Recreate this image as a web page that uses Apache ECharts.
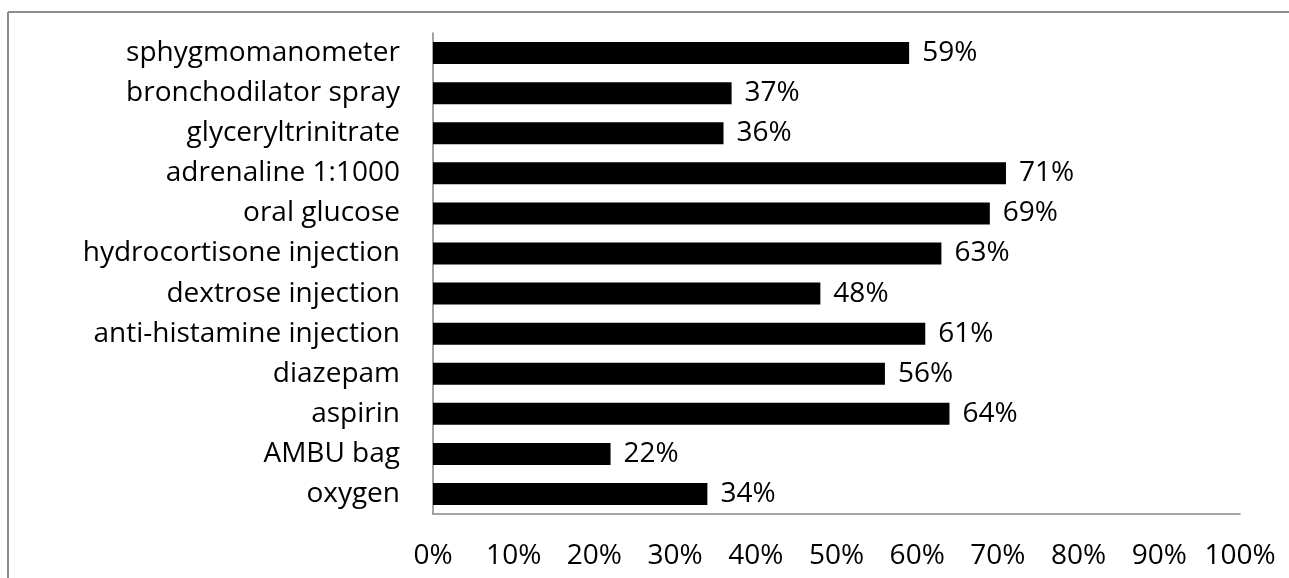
<!DOCTYPE html>
<html>
<head>
<meta charset="utf-8">
<script src="https://cdn.jsdelivr.net/npm/echarts@6/dist/echarts.min.js"></script>
<style>
  html, body { margin: 0; padding: 0; background: #fff; }
  #chart { width: 1289px; height: 578px; }
</style>
</head>
<body>
<div id="chart"></div>
<script>
// categories listed bottom to top (echarts puts the first one at the bottom)
var categories = [
  'oxygen', 'AMBU bag', 'aspirin', 'diazepam', 'anti-histamine injection',
  'dextrose injection', 'hydrocortisone injection', 'oral glucose',
  'adrenaline 1:1000', 'glyceryltrinitrate', 'bronchodilator spray', 'sphygmomanometer'
]
var percentValues = [34, 22, 64, 56, 61, 48, 63, 69, 71, 36, 37, 59]
var xTicks = [0, 10, 20, 30, 40, 50, 60, 70, 80, 90, 100]

var font = 'Open Sans'
var chart = echarts.init(document.getElementById('chart'))

chart.setOption({
  animation: false,
  grid: { left: 433, right: 49, top: 33, bottom: 64 },
  // outer frame, only top and left edges are visible
  graphic: [
    { type: 'line', shape: { x1: 8, y1: 12, x2: 1289, y2: 12 }, style: { stroke: '#8c8c8c', lineWidth: 2 } },
    { type: 'line', shape: { x1: 8, y1: 12, x2: 8, y2: 578 }, style: { stroke: '#8c8c8c', lineWidth: 2 } }
  ],
  xAxis: {
    type: 'value',
    min: xTicks[0],
    max: xTicks[xTicks.length - 1],
    interval: 10,
    splitLine: { show: false },
    axisTick: { show: false },
    axisLine: { show: true, lineStyle: { color: '#868686', width: 1.5 } },
    axisLabel: {
      margin: 28,
      color: '#000',
      fontFamily: font,
      fontSize: 28,
      formatter: '{value}%'
    }
  },
  yAxis: {
    type: 'category',
    data: categories,
    axisTick: { show: false },
    axisLine: { show: true, lineStyle: { color: '#868686', width: 1.5 } },
    axisLabel: {
      margin: 33,
      color: '#000',
      fontFamily: font,
      fontSize: 28
    }
  },
  series: [{
    type: 'bar',
    data: percentValues,
    barWidth: 22,
    itemStyle: { color: '#000' },
    label: {
      show: true,
      position: 'right',
      distance: 13,
      color: '#000',
      fontFamily: font,
      fontSize: 28,
      formatter: '{c}%'
    }
  }]
})
</script>
</body>
</html>
